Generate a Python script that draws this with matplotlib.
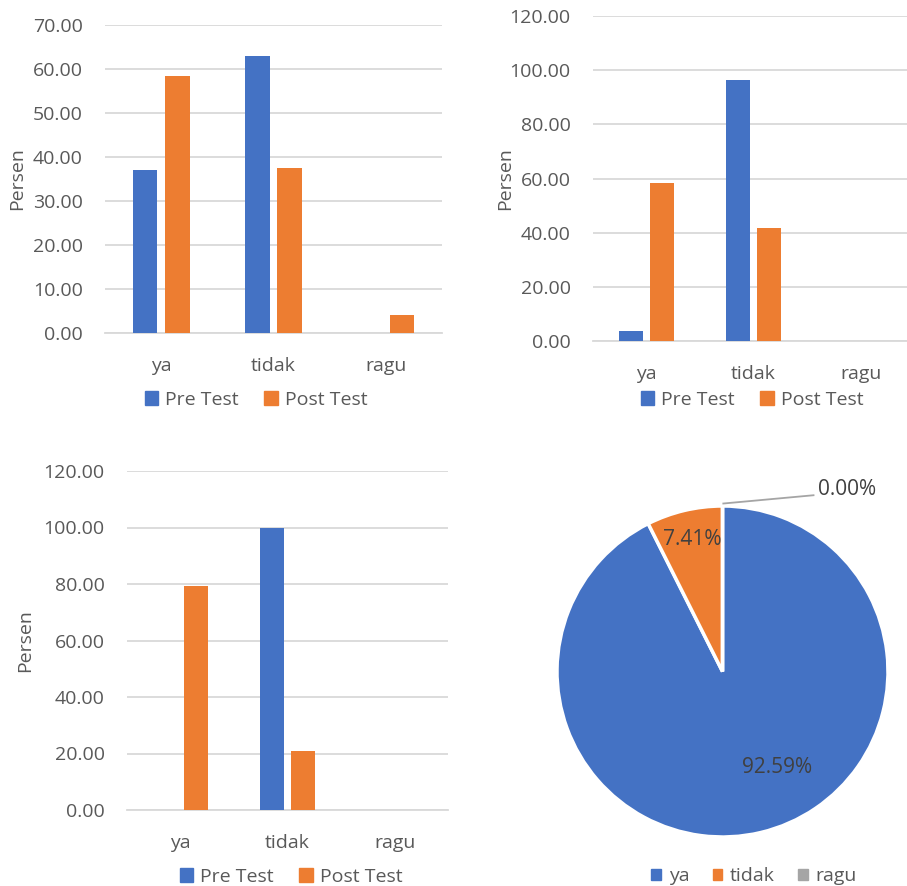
import matplotlib.pyplot as plt
from matplotlib.patches import Patch
import numpy as np

plt.rcParams['font.family'] = ['Open Sans', 'DejaVu Sans']

# data
kategori = ['ya', 'tidak', 'ragu']
pre_1 = [37.04, 62.96, 0.0]
post_1 = [58.33, 37.50, 4.17]
pre_2 = [3.70, 96.30, 0.0]
post_2 = [58.33, 41.67, 0.0]
pre_3 = [0.0, 100.0, 0.0]
post_3 = [79.17, 20.83, 0.0]
pie_nilai = [92.59, 7.41, 0.0]
pie_label = ['92.59%', '7.41%', '0.00%']

BIRU = '#4472C4'
ORANYE = '#ED7D31'
ABU = '#A5A5A5'
TEKS = '#595959'
GRID = '#D9D9D9'

W, H = 907, 886
fig = plt.figure(figsize=(W / 100, H / 100), dpi=100)


def kotak(x0, y0, x1, y1):
    """posisi axes dari koordinat piksel (atas-kiri)"""
    return [x0 / W, 1 - y1 / H, (x1 - x0) / W, (y1 - y0) / H]


def rect_pix_center(rect):
    return (1 - rect[1] - rect[3] / 2) * H


def grafik_batang(rect, pre, post, ymax, step, ylabel_x, legend_xy):
    ax = fig.add_axes(rect)
    x = np.arange(len(kategori))
    lebar = 0.22
    ax.bar(x - 0.145, pre, lebar, color=BIRU, zorder=3)
    ax.bar(x + 0.145, post, lebar, color=ORANYE, zorder=3)
    ax.set_xlim(-0.5, len(kategori) - 0.5)
    ax.set_ylim(0, ymax)
    ticks = np.arange(0, ymax + 0.1, step)
    ax.set_yticks(ticks)
    ax.set_yticklabels([f'{v:.2f}' for v in ticks])
    ax.set_xticks(x)
    ax.set_xticklabels(kategori)
    ax.tick_params(axis='both', length=0, labelsize=14, colors=TEKS)
    ax.tick_params(axis='y', pad=16)
    ax.tick_params(axis='x', pad=17)
    ax.grid(True, axis='y', color=GRID, linewidth=1.3, zorder=0)
    for s in ['top', 'right', 'left']:
        ax.spines[s].set_visible(False)
    ax.spines['bottom'].set_color(GRID)
    ax.spines['bottom'].set_linewidth(1.3)
    fig.text(ylabel_x / W, 1 - rect_pix_center(rect) / H, 'Persen', rotation=90,
             ha='center', va='center', fontsize=14, color=TEKS)
    handles = [Patch(color=BIRU, label='Pre Test'), Patch(color=ORANYE, label='Post Test')]
    fig.legend(handles=handles, loc='center', ncol=2, frameon=False,
               bbox_to_anchor=(legend_xy[0] / W, 1 - legend_xy[1] / H),
               fontsize=14, labelcolor=TEKS, handlelength=0.7, handleheight=0.7,
               handletextpad=0.35, columnspacing=1.3)
    return ax


grafik_batang(kotak(105, 25, 442, 333), pre_1, post_1, 70, 10, 17, (256, 400))
grafik_batang(kotak(593, 16, 914, 341), pre_2, post_2, 120, 20, 505, (752, 400))
grafik_batang(kotak(127, 471, 448, 810), pre_3, post_3, 120, 20, 25, (291, 877))

# pie
ax4 = fig.add_axes(kotak(557, 506, 888, 837))
wedges, _ = ax4.pie(pie_nilai, colors=[BIRU, ORANYE, ABU], startangle=90,
                    counterclock=False, radius=1,
                    wedgeprops=dict(edgecolor='white', linewidth=2.5))
ax4.set_xlim(-1, 1)
ax4.set_ylim(-1, 1)
ax4.text(0.33, -0.58, pie_label[0], ha='center', va='center', fontsize=15, color='#404040')
ax4.text(-0.18, 0.80, pie_label[1], ha='center', va='center', fontsize=15, color='#404040')
ax4.text(0.75, 1.10, pie_label[2], ha='center', va='center', fontsize=15, color='#404040')
ax4.plot([0.005, 0.55], [1.015, 1.065], color=ABU, linewidth=1.3, clip_on=False)

handles = [Patch(color=c, label=k) for c, k in zip([BIRU, ORANYE, ABU], kategori)]
fig.legend(handles=handles, loc='center', ncol=3, frameon=False,
           bbox_to_anchor=(754 / W, 1 - 876 / H), fontsize=14, labelcolor=TEKS,
           handlelength=0.5, handleheight=0.5, handletextpad=0.4, columnspacing=1.2)

fig.savefig('out.png', dpi=100)
